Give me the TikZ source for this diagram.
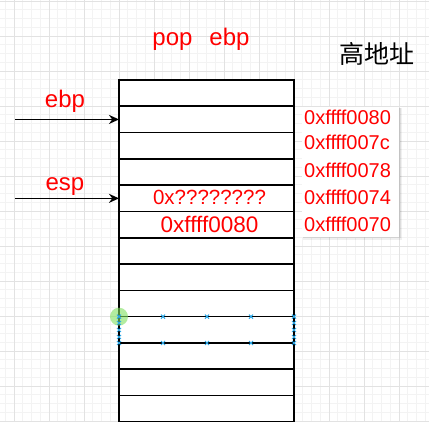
\documentclass[tikz,border=0pt]{standalone}
\usepackage{fontspec}
\setmainfont{Liberation Sans}
\newfontfamily\cjk{Noto Sans CJK SC}
\usetikzlibrary{arrows.meta}
\definecolor{gridminor}{HTML}{F3F3F3}
\definecolor{gridmajor}{HTML}{E2E2E2}
\definecolor{selblue}{HTML}{2AA6E6}
\definecolor{selgreen}{HTML}{7FE060}
\tikzset{
  cell/.style={draw=black, fill=white, line width=1.6pt, minimum width=175pt, minimum height=26.3pt, inner sep=0pt, outer sep=0pt},
  lbl/.style={text=red, font=\fontsize{24}{28}\selectfont, inner sep=0pt, anchor=base},
  addr/.style={text=red, font=\fontsize{20}{22}\selectfont, inner sep=0pt, anchor=base west},
  ptr/.style={draw=black, line width=1.6pt, -{Stealth[length=10pt,width=9pt]}},
  selx/.style={draw=selblue, line width=1pt}
}
\begin{document}
\begin{tikzpicture}[x=1pt,y=-1pt]
\useasboundingbox (0,0) rectangle (429,422);
\fill[white] (0,0) rectangle (429,422);
% grid
\foreach \i in {-2,...,49} {
  \draw[gridminor, line width=0.8pt] ({14+8.75*\i},0) -- ({14+8.75*\i},422);
  \draw[gridminor, line width=0.8pt] (0,{1+8.75*\i}) -- (429,{1+8.75*\i});
}
\foreach \i in {0,...,12} {
  \draw[gridmajor, line width=0.9pt] ({14+35*\i},0) -- ({14+35*\i},422);
  \draw[gridmajor, line width=0.9pt] (0,{1+35*\i}) -- (429,{1+35*\i});
}
% stack
\foreach \i in {1,...,13} {
  \node[cell] (r\i) at (206.5,{80+26.3*(\i-0.5)}) {};
}
\node[text=red, font=\fontsize{20.5}{22}\selectfont, inner sep=0pt] (v1) at ([xshift=3pt,yshift=0.5pt]r5.center) {0x????????};
\node[text=red, font=\fontsize{22.5}{24}\selectfont, inner sep=0pt] (v2) at ([xshift=3pt]r6.center) {0xffff0080};
% title
\node[lbl] (title) at (201,46) {pop\hspace{17pt}ebp};
\node[inner sep=0pt, font=\cjk\fontsize{25}{28}\selectfont] (hi) at (377,54) {高地址};
% pointers
\node[lbl] (lebp) at (65,108) {ebp};
\node[lbl] (lesp) at (65,191) {esp};
\coordinate (sebp) at (15,0 |- r2.west);
\coordinate (sesp) at (15,0 |- r5.west);
\draw[ptr] (sebp) -- (r2.west);
\draw[ptr] (sesp) -- (r5.west);
% address box
\fill[black, opacity=0.06] (303,108) rectangle (402,240);
\fill[black, opacity=0.08] (303,108) rectangle (400.5,238.5);
\fill[white] (302,107) rectangle (399,237);
\node[addr] (a1) at (304,125) {0xffff0080};
\node[addr] (a2) at (304,150) {0xffff007c};
\node[addr] (a3) at (304,178) {0xffff0078};
\node[addr] (a4) at (304,205) {0xffff0074};
\node[addr] (a5) at (304,232) {0xffff0070};
% selection markers
\fill[selgreen, opacity=0.6] (r10.north west) circle (9);
\foreach \x in {119,163,207,251,294} {
  \foreach \y in {316.7,343} {
    \draw[selx] (\x-2,\y-2) -- (\x+2,\y+2) (\x-2,\y+2) -- (\x+2,\y-2);
  }
}
\foreach \x in {119,294} {
  \foreach \y in {323,330,337} {
    \draw[selx] (\x-2,\y-2) -- (\x+2,\y+2) (\x-2,\y+2) -- (\x+2,\y-2);
  }
}
\end{tikzpicture}
\end{document}
